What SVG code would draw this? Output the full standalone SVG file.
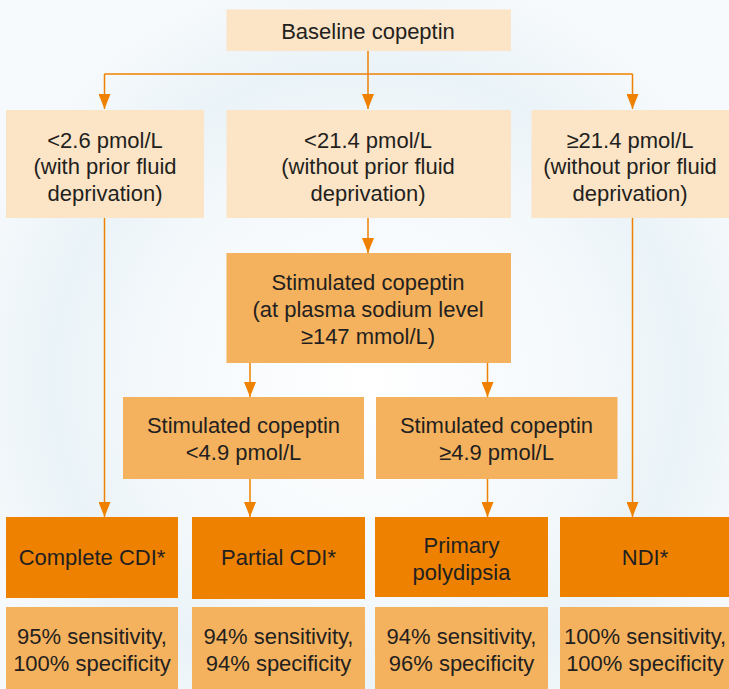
<svg xmlns="http://www.w3.org/2000/svg" width="729" height="689" viewBox="0 0 729 689">
<style>
text{font-family:"Liberation Sans",Arial,sans-serif;font-size:22px;fill:#231f20;text-anchor:middle}
.light{fill:#fce4c6}
.mid{fill:#f5b25e}
.dark{fill:#ee8200}
.conn{stroke:#ee8200;stroke-width:1.5;fill:none}
</style>
<defs>
<marker id="ah" viewBox="0 0 15 12" refX="15" refY="6" markerWidth="15" markerHeight="12" markerUnits="userSpaceOnUse" orient="auto">
<path d="M0,0 L15,6 L0,12 Z" fill="#ee8200"/>
</marker>
<radialGradient id="bg" cx="368" cy="380" r="420" gradientUnits="userSpaceOnUse">
<stop offset="0" stop-color="#ffffff"/>
<stop offset="0.55" stop-color="#f3f8fb"/>
<stop offset="0.75" stop-color="#eaf3f8"/>
<stop offset="1" stop-color="#f7fafc"/>
</radialGradient>
</defs>
<rect width="729" height="689" fill="url(#bg)"/>
<g id="connectors">
<path class="conn" d="M368,51 V74"/>
<path class="conn" d="M104.5,74 H632.5"/>
<path class="conn" d="M104.5,74 V109" marker-end="url(#ah)"/>
<path class="conn" d="M368,74 V109" marker-end="url(#ah)"/>
<path class="conn" d="M632.5,74 V109" marker-end="url(#ah)"/>
<path class="conn" d="M368,218 V253" marker-end="url(#ah)"/>
<path class="conn" d="M250,363 V397" marker-end="url(#ah)"/>
<path class="conn" d="M487.5,363 V397" marker-end="url(#ah)"/>
<path class="conn" d="M104.5,218 V517" marker-end="url(#ah)"/>
<path class="conn" d="M250,479 V517" marker-end="url(#ah)"/>
<path class="conn" d="M487.5,479 V517" marker-end="url(#ah)"/>
<path class="conn" d="M632.5,218 V517" marker-end="url(#ah)"/>
</g>
<g id="baseline">
<rect class="light" x="226.5" y="9.5" width="284.5" height="41.5"/>
<text x="368" y="39">Baseline copeptin</text>
</g>
<g id="low26">
<rect class="light" x="6" y="110" width="198" height="108"/>
<text x="105" y="147.5">&lt;2.6 pmol/L</text>
<text x="105" y="174">(with prior fluid</text>
<text x="105" y="200.5">deprivation)</text>
</g>
<g id="low214">
<rect class="light" x="226.5" y="110" width="284.5" height="108"/>
<text x="368" y="147.5">&lt;21.4 pmol/L</text>
<text x="368" y="174">(without prior fluid</text>
<text x="368" y="200.5">deprivation)</text>
</g>
<g id="high214">
<rect class="light" x="531.5" y="110" width="197.5" height="108"/>
<text x="630" y="147.5">≥21.4 pmol/L</text>
<text x="630" y="174">(without prior fluid</text>
<text x="630" y="200.5">deprivation)</text>
</g>
<g id="stimulated">
<rect class="mid" x="226.5" y="253" width="284.5" height="110"/>
<text x="368" y="290">Stimulated copeptin</text>
<text x="368" y="317">(at plasma sodium level</text>
<text x="368" y="344">≥147 mmol/L)</text>
</g>
<g id="stim-low">
<rect class="mid" x="123" y="397" width="241" height="82"/>
<text x="243.5" y="433">Stimulated copeptin</text>
<text x="243.5" y="460">&lt;4.9 pmol/L</text>
</g>
<g id="stim-high">
<rect class="mid" x="376" y="397" width="241.5" height="82"/>
<text x="496.5" y="433">Stimulated copeptin</text>
<text x="496.5" y="460">≥4.9 pmol/L</text>
</g>
<g id="complete-cdi">
<rect class="dark" x="6" y="517" width="172" height="81"/>
<text x="92" y="565">Complete CDI*</text>
</g>
<g id="partial-cdi">
<rect class="dark" x="192" y="517" width="173" height="82"/>
<text x="278.5" y="565">Partial CDI*</text>
</g>
<g id="primary-polydipsia">
<rect class="dark" x="375" y="517" width="173" height="80"/>
<text x="461.5" y="553">Primary</text>
<text x="461.5" y="580">polydipsia</text>
</g>
<g id="ndi">
<rect class="dark" x="560" y="517" width="169" height="80"/>
<text x="645" y="565">NDI*</text>
</g>
<g id="stats-complete">
<rect class="mid" x="6" y="607" width="172" height="82"/>
<text x="92" y="644">95% sensitivity,</text>
<text x="92" y="671">100% specificity</text>
</g>
<g id="stats-partial">
<rect class="mid" x="192" y="607" width="173" height="82"/>
<text x="278.5" y="644">94% sensitivity,</text>
<text x="278.5" y="671">94% specificity</text>
</g>
<g id="stats-primary">
<rect class="mid" x="375" y="607" width="173" height="82"/>
<text x="461.5" y="644">94% sensitivity,</text>
<text x="461.5" y="671">96% specificity</text>
</g>
<g id="stats-ndi">
<rect class="mid" x="560" y="607" width="169" height="82"/>
<text x="645" y="644">100% sensitivity,</text>
<text x="645" y="671">100% specificity</text>
</g>
</svg>
